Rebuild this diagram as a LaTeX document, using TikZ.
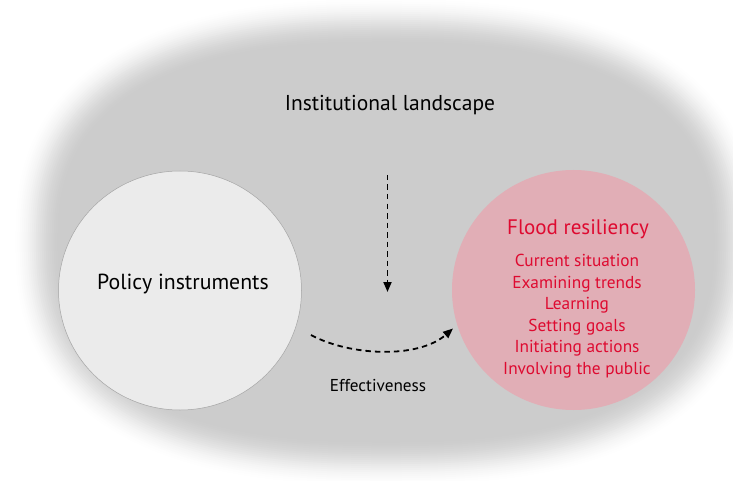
\documentclass[tikz,border=0pt]{standalone}
\usepackage{fontspec}
\setmainfont{PT Sans}
\usetikzlibrary{arrows.meta,shapes.geometric}
\definecolor{bggray}{RGB}{204,204,204}
\definecolor{polfill}{RGB}{235,235,235}
\definecolor{polline}{RGB}{165,165,165}
\definecolor{pinkfill}{RGB}{225,174,182}
\definecolor{floodred}{RGB}{222,10,48}
\tikzset{
  declare function={spow(\u)=(\u<0 ? -1 : 1)*abs(\u)^(0.8);},
  lbl/.style={anchor=base, inner sep=0pt, text=black},
  redlbl/.style={anchor=base, inner sep=0pt, text=floodred},
  listfont/.style={font=\fontsize{17.3}{20}\selectfont},
  flowarrow/.style={line width=1.8pt, dash pattern=on 5.5pt off 4pt, -{Triangle[length=10pt,width=8pt]}},
}
\begin{document}
\begin{tikzpicture}[x=1pt,y=-1pt]
\useasboundingbox (0,0) rectangle (733,481);
\clip (0,0) rectangle (733,481);
\fill[white] (0,0) rectangle (733,481);
% blurred landscape background
\foreach \k in {0,...,24}{
  \pgfmathsetmacro\dd{25-2*\k}
  \pgfmathsetmacro\tt{\k/24}
  \pgfmathsetmacro\pp{20*(3*\tt*\tt-2*\tt*\tt*\tt)}
  \fill[black!\pp] plot[domain=1:361, samples=181, variable=\a]
    ({386+(349+\dd)*spow(cos(\a))}, {242+(221+\dd)*spow(sin(\a))}) -- cycle;
}
% circles
\node[ellipse, draw=polline, line width=0.5pt, fill=polfill, minimum width=243pt, minimum height=239pt, inner sep=0pt] (policy) at (180,290.5) {};
\node[ellipse, fill=pinkfill, minimum width=243pt, minimum height=240pt, inner sep=0pt] (flood) at (573.5,290) {};
% texts
\node[lbl, font=\fontsize{21.5}{25}\selectfont] (inst) at (390,110.7) {Institutional landscape};
\node[lbl, font=\fontsize{21.8}{26}\selectfont] (poltxt) at (183,289.3) {Policy instruments};
\node[redlbl, font=\fontsize{21}{25}\selectfont] (floodtxt) at (578,234) {Flood resiliency};
\node[redlbl, listfont] (l1) at (577,266.7) {Current situation};
\node[redlbl, listfont] (l2) at (577,288.2) {Examining trends};
\node[redlbl, listfont] (l3) at (577,309.7) {Learning};
\node[redlbl, listfont] (l4) at (577,331.2) {Setting goals};
\node[redlbl, listfont] (l5) at (577,352.7) {Initiating actions};
\node[redlbl, listfont] (l6) at (577,374.2) {Involving the public};
\node[lbl, font=\fontsize{17.2}{20}\selectfont] (eff) at (378,391) {Effectiveness};
% connectors
\coordinate (vtop) at (387.5,175);
\coordinate (vbot) at (387.5,292);
\draw[flowarrow] (vtop) -- (vbot);
\coordinate (cstart) at (311,335);
\coordinate (cend) at (453,328.5);
\draw[flowarrow] (cstart) .. controls (350,356) and (418,359) .. (cend);
\end{tikzpicture}
\end{document}
